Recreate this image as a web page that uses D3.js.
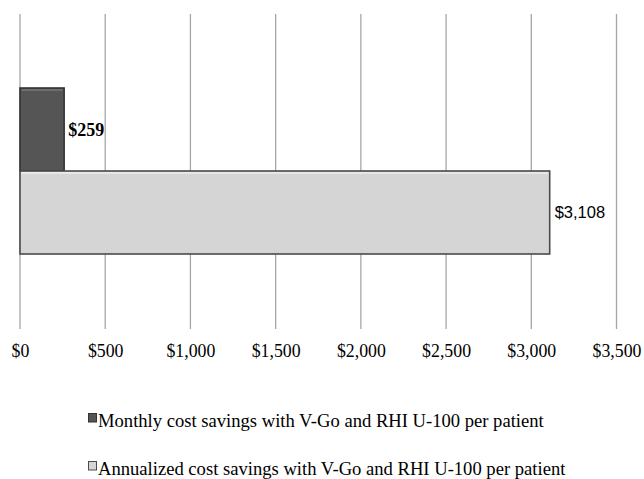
<!DOCTYPE html>
<html><head><meta charset="utf-8">
<script src="https://cdn.jsdelivr.net/npm/d3@7"></script>
<style>body{margin:0;background:#fff}svg{display:block}</style>
</head><body>
<svg id="c" width="644" height="479"></svg>
<script>
const series = ["Monthly cost savings with V-Go and RHI U-100 per patient",
                "Annualized cost savings with V-Go and RHI U-100 per patient"];
const values = [259, 3108];
const valueLabels = ["$259", "$3,108"];
const tickValues = [0, 500, 1000, 1500, 2000, 2500, 3000, 3500];
const tickLabels = ["$0","$500","$1,000","$1,500","$2,000","$2,500","$3,000","$3,500"];
const fills = ["#555555", "#d5d5d5"];
const strokes = ["#333333", "#4a4a4a"];

const svg = d3.select("#c");
const x = d3.scaleLinear().domain([0, 3500]).range([20, 616.5]);
const y = d3.scaleBand().domain(series).range([88, 254]).padding(0);
const gridTop = 14, gridBottom = 329;

// gridlines
svg.append("g").selectAll("line").data(tickValues).join("line")
  .attr("x1", d => x(d)).attr("x2", d => x(d))
  .attr("y1", gridTop).attr("y2", gridBottom)
  .attr("stroke", "#a6a6a6").attr("stroke-width", 1.3);

// axis labels
const ax = svg.append("g").attr("transform", `translate(0,${gridBottom})`)
  .call(d3.axisBottom(x).tickValues(tickValues).tickSize(0).tickPadding(0)
        .tickFormat((d, i) => tickLabels[i]));
ax.select(".domain").remove();
ax.selectAll("text").attr("dy", null).attr("y", 28)
  .attr("font-family", "'Liberation Serif', 'Times New Roman', serif")
  .attr("font-size", "17.8px").attr("fill", "#000");

// bars
const bars = svg.append("g").selectAll("g").data(series).join("g");
bars.append("rect")
  .attr("x", x(0)).attr("y", d => y(d))
  .attr("width", (d, i) => x(values[i]) - x(0))
  .attr("height", y.bandwidth())
  .attr("fill", (d, i) => fills[i])
  .attr("stroke", (d, i) => strokes[i]).attr("stroke-width", 1.6);
// subtle top highlight
bars.append("line")
  .attr("x1", x(0) + 1.5).attr("x2", (d, i) => x(values[i]) - 1.5)
  .attr("y1", d => y(d) + 2).attr("y2", d => y(d) + 2)
  .attr("stroke", (d, i) => i === 0 ? "#6e6e6e" : "#e8e8e8").attr("stroke-width", 2);

// value labels
bars.append("text")
  .attr("x", (d, i) => x(values[i]) + (i === 0 ? 4 : 5))
  .attr("y", d => y(d) + y.bandwidth() / 2)
  .attr("dy", "0.35em")
  .attr("font-family", (d, i) => i === 0 ? "'Liberation Serif', serif" : "'Liberation Sans', Arial, sans-serif")
  .attr("font-weight", (d, i) => i === 0 ? "bold" : "normal")
  .attr("font-size", (d, i) => i === 0 ? "18px" : "16.5px")
  .attr("fill", "#000")
  .text((d, i) => valueLabels[i]);

// legend
const lg = svg.append("g").selectAll("g").data(series).join("g")
  .attr("transform", (d, i) => `translate(88,${413 + i * 48})`);
lg.append("rect").attr("x", 0.5).attr("y", 0.5).attr("width", 8).attr("height", 8.5)
  .attr("fill", (d, i) => fills[i]).attr("stroke", (d, i) => strokes[i]).attr("stroke-width", 1);
lg.append("text").attr("x", 10).attr("y", 13.5)
  .attr("font-family", "'Liberation Serif', 'Times New Roman', serif")
  .attr("font-size", "18.6px").attr("fill", "#000")
  .text(d => d);
</script>
</body></html>
